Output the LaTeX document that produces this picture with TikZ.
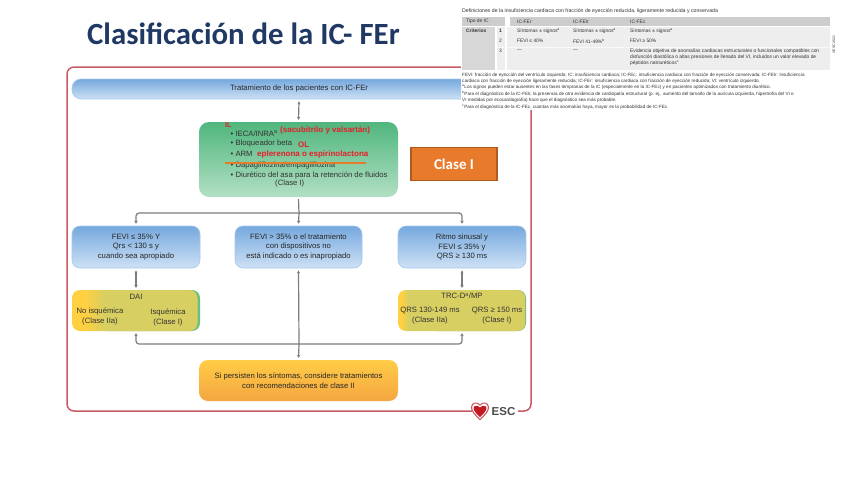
\documentclass[tikz,border=0pt]{standalone}
\usepackage{fontspec}
\setmainfont{Liberation Sans}
\newfontfamily\titlefont{Carlito}
\usetikzlibrary{arrows.meta}
\definecolor{framered}{RGB}{200,90,100}
\definecolor{titleblue}{RGB}{31,56,100}
\definecolor{conn}{RGB}{125,125,128}
\definecolor{clase}{RGB}{232,122,44}
\definecolor{clasedge}{RGB}{176,90,34}
\definecolor{yelbox}{RGB}{216,207,98}
\definecolor{yelhot}{RGB}{255,208,64}
\definecolor{tablehead}{RGB}{205,205,205}
\definecolor{tablerow}{RGB}{238,238,238}
\definecolor{tablefirst}{RGB}{215,215,215}
\definecolor{anno}{RGB}{232,30,40}
\pgfdeclarehorizontalshading{yelwide}{100bp}{color(0bp)=(yelhot); color(30bp)=(yelhot); color(38bp)=(yelbox); color(100bp)=(yelbox)}
\pgfdeclarehorizontalshading{yelthin}{100bp}{color(0bp)=(yelhot); color(26.5bp)=(yelhot); color(29bp)=(yelbox); color(100bp)=(yelbox)}
\tikzset{
  x=1pt,y=-1pt,
  box/.style={rounded corners=8pt,minimum height=#1,align=center,font=\fontsize{7.7}{9.4}\selectfont,inner sep=0pt,text=black!85},
  bluebox/.style={box=42pt,minimum width=128pt,top color={rgb,255:red,118;green,168;blue,222},bottom color={rgb,255:red,205;green,225;blue,245},draw={rgb,255:red,165;green,200;blue,235},line width=.6pt},
  yelbox/.style={box=41pt,minimum width=128pt},
  sublabel/.style={align=center,font=\fontsize{7.7}{9.3}\selectfont,text=black!80,inner sep=0pt},
  itemtext/.style={anchor=west,font=\fontsize{7.7}{9}\selectfont,text=black!80,inner sep=0pt},
  annotext/.style={anchor=west,font=\fontsize{8}{9}\bfseries\selectfont,text=anno,inner sep=0pt},
  wire/.style={draw=conn,line width=1.2pt,rounded corners=3pt},
  darrow/.style={wire,{Stealth[length=3pt,width=3pt]}-{Stealth[length=3pt,width=3.5pt]}},
  sarrow/.style={wire,-{Stealth[length=3pt,width=3.5pt]}},
  tabletext/.style={anchor=west,font=\fontsize{4.9}{6}\selectfont,inner sep=0pt,text=black!80},
  notetext/.style={anchor=west,font=\fontsize{4.6}{6.4}\selectfont,inner sep=0pt,text=black!80},
}
\begin{document}
\begin{tikzpicture}
\useasboundingbox (0,0) rectangle (848,477);
\fill[white] (0,0) rectangle (848,477);

% title
\node[anchor=west,inner sep=0pt,text=titleblue,font=\titlefont\fontsize{30.8}{32}\bfseries\selectfont] (title) at (87,34) {Clasificación de la IC- FEr};

% frame with gap for logo
\coordinate (frameA) at (472,411);
\coordinate (frameB) at (518,411);
\draw[framered,line width=1.5pt,rounded corners=7pt] (frameA) -- (67,411) -- (67,67) -- (531,67) -- (531,411) -- (frameB);

% boxes
\node[box=20pt,minimum width=454pt,rounded corners=9pt,top color={rgb,255:red,118;green,168;blue,222},bottom color={rgb,255:red,205;green,225;blue,245},draw={rgb,255:red,165;green,200;blue,235},line width=.6pt] (top) at (299,89) {Tratamiento de los pacientes con IC-FEr};

\node[box=75pt,minimum width=199pt,rounded corners=10pt,top color={rgb,255:red,80;green,182;blue,125},bottom color={rgb,255:red,178;green,224;blue,196}] (green) at (298.5,159.5) {};
\node[itemtext] (i1) at (230.5,133.5) {• IECA/INRA\textsuperscript{a}};
\node[itemtext] (i2) at (230.5,144) {• Bloqueador beta};
\node[itemtext] (i3) at (230.5,154) {• ARM};
\node[itemtext] (i4) at (230.5,166) {• Dapagliflozina/empagliflozina};
\node[itemtext] (i5) at (230.5,175) {• Diurético del asa para la retención de fluidos};
\node[itemtext] (i6) at (275,184) {(Clase I)};
\node[annotext,font=\fontsize{7}{8}\bfseries\selectfont] (a0) at (225,125) {IL};
\node[annotext] (a1) at (280,130) {(sacubitrilo y valsartán)};
\node[annotext] (a2) at (298,144.5) {OL};
\node[annotext] (a3) at (257,154) {eplerenona o espirinolactona};
\coordinate (strikeA) at (225,163);
\coordinate (strikeB) at (366,163);
\draw[clase,line width=1.4pt] (strikeA) -- (strikeB);

\node[minimum width=86pt,minimum height=33pt,inner sep=0pt,fill=clase,draw=clasedge,line width=1.2pt,text=white,font=\titlefont\fontsize{15}{16}\bfseries\selectfont] (clase) at (454,164) {Clase I};

\node[bluebox] (b1) at (136,247) {FEVI ≤ 35\% Y\\Qrs < 130 s y\\cuando sea apropiado};
\node[bluebox,minimum width=127pt] (b2) at (298.5,247) {FEVI > 35\% o el tratamiento\\con dispositivos no\\está indicado o es inapropiado};
\node[bluebox] (b3) at (462,247) {Ritmo sinusal y\\FEVI ≤ 35\% y\\QRS ≥ 130 ms};

% yellow boxes with coloured edges
\fill[rounded corners=8pt,fill={rgb,255:red,110;green,190;blue,125}] (100,290) rectangle (200,331);
\node[yelbox,minimum width=125.5pt,shading=yelwide] (y1) at (134.75,310.5) {};
\fill[rounded corners=8pt,fill={rgb,255:red,110;green,190;blue,125}] (430,290) rectangle (526,331);
\node[yelbox,minimum width=127.2pt,shading=yelthin] (y2) at (461.6,310.5) {};
\node[sublabel] (y1t) at (136,297) {DAI};
\node[sublabel] (y1a) at (100,316.5) {No isquémica\\(Clase IIa)};
\node[sublabel] (y1b) at (168,317.5) {Isquémica\\(Clase I)};
\node[sublabel] (y2t) at (462,296) {TRC-D\textsuperscript{a}/MP};
\node[sublabel] (y2a) at (430,315.5) {QRS 130-149 ms\\(Clase IIa)};
\node[sublabel] (y2b) at (497,315.5) {QRS ≥ 150 ms\\(Clase I)};

\node[box=41pt,minimum width=199pt,rounded corners=9pt,top color={rgb,255:red,255;green,205;blue,70},bottom color={rgb,255:red,245;green,165;blue,65}] (o) at (298.5,380.5) {Si persisten los síntomas, considere tratamientos\\con recomendaciones de clase II};

% connectors
\coordinate (busT) at (299,213);
\coordinate (busB) at (299,344);
\draw[darrow] ([yshift=-2pt]top.south) -- ([yshift=2pt]green.north);
\draw[wire] ([yshift=-2pt]green.south) -- (busT);
\draw[sarrow] (busT) -- ([yshift=2pt]b2.north);
\draw[sarrow] (busT) -| ([yshift=2pt]b1.north);
\draw[sarrow] (busT) -| ([yshift=2pt]b3.north);
\draw[darrow] ([yshift=-2pt]b1.south) -- ([yshift=2pt]y1.north -| b1.south);
\draw[darrow] ([yshift=-2pt]b3.south) -- ([yshift=2pt]y2.north -| b3.south);
\draw[wire,{Stealth[length=3pt,width=3pt]}-] ([yshift=-2pt]b2.south) -- (busB);
\draw[sarrow] (busB) -| ([yshift=-2pt]y1.south -| b1.south);
\draw[sarrow] (busB) -| ([yshift=-2pt]y2.south -| b3.south);
\draw[sarrow] (busB) -- ([yshift=2pt]o.north);

% ESC logo
\node[inner sep=0pt,text=black!70,font=\fontsize{11.5}{12}\bfseries\selectfont,anchor=west] (esc) at (491.5,412) {ESC};
\fill[white,draw=framered,line width=1.1pt] (480,419.5) .. controls (475,415) and (471.5,411) .. (471.5,407.5) .. controls (471.5,402.5) and (477,401.5) .. (480,405) .. controls (483,401.5) and (488.5,402.5) .. (488.5,407.5) .. controls (488.5,411) and (485,415) .. (480,419.5) -- cycle;
\fill[anno!85!black] (480,417) .. controls (476,413.5) and (473.5,410.5) .. (473.5,408) .. controls (473.5,405.5) and (478,405) .. (480,407.5) .. controls (482,405) and (486.5,405.5) .. (486.5,408) .. controls (486.5,410.5) and (484,413.5) .. (480,417) -- cycle;

% table, top right: pasted on a white ground that hides the frame's corner
\fill[white] (461,0) rectangle (848,110);
\node[notetext,font=\fontsize{5.2}{6}\selectfont] (tcap) at (462,11) {Definiciones de la insuficiencia cardiaca con fracción de eyección reducida, ligeramente reducida y conservada};
\fill[tablehead] (462,17) rectangle (505,26);
\fill[tablehead] (510,17) rectangle (830,26);
\fill[tablefirst] (462,27) rectangle (495,70);
\fill[tablerow] (497,27) rectangle (505,70);
\fill[tablerow] (507,27) rectangle (830,70);
\draw[white,line width=.5pt,densely dotted] (497,47.5) -- (830,47.5);
\node[tabletext] (h0) at (466,21.5) {Tipo de IC};
\node[tabletext] (h1) at (517,21.5) {IC-FEr};
\node[tabletext] (h2) at (573,21.5) {IC-FElr};
\node[tabletext] (h3) at (630,21.5) {IC-FEc};
\node[tabletext,font=\fontsize{4.9}{6}\bfseries\selectfont] (c0) at (466,31) {Criterios};
\node[tabletext,font=\fontsize{5}{6}\bfseries\selectfont] (r1) at (499,31) {1};
\node[tabletext] (r2) at (499,41) {2};
\node[tabletext] (r3) at (499,51) {3};
\node[tabletext] (c11) at (517,31) {Síntomas ± signos\textsuperscript{a}};
\node[tabletext] (c12) at (573,31) {Síntomas ± signos\textsuperscript{a}};
\node[tabletext] (c13) at (630,31) {Síntomas ± signos\textsuperscript{a}};
\node[tabletext] (c21) at (517,41) {FEVI ≤ 40\%};
\node[tabletext] (c22) at (573,41) {FEVI 41-49\%\textsuperscript{b}};
\node[tabletext] (c23) at (630,41) {FEVI ≥ 50\%};
\node[tabletext] (c31) at (517,51) {—};
\node[tabletext] (c32) at (573,51) {—};
\node[tabletext,align=left,anchor=north west,font=\fontsize{4.9}{6.2}\selectfont] (c33) at (630,48.5) {Evidencia objetiva de anomalías cardiacas estructurales o funcionales compatibles con\\disfunción diastólica o altas presiones de llenado del VI, incluidos un valor elevado de\\péptidos natriuréticos\textsuperscript{c}};
\node[notetext,rotate=90,font=\fontsize{3.5}{4}\selectfont] (side) at (834,54) {©ESC 2021};
\node[notetext,anchor=north west,align=left] (notes) at (462,72.5) {FEVI: fracción de eyección del ventrículo izquierdo; IC: insuficiencia cardiaca; IC-FEc: insuficiencia cardiaca con fracción de eyección conservada; IC-FElr: insuficiencia\\cardiaca con fracción de eyección ligeramente reducida; IC-FEr: insuficiencia cardiaca con fracción de eyección reducida; VI: ventrículo izquierdo.\\\textsuperscript{a}Los signos pueden estar ausentes en las fases tempranas de la IC (especialmente en la IC-FEc) y en pacientes optimizados con tratamiento diurético.\\\textsuperscript{b}Para el diagnóstico de la IC-FElr, la presencia de otra evidencia de cardiopatía estructural (p. ej., aumento del tamaño de la aurícula izquierda, hipertrofia del VI o\\VI medidas por ecocardiografía) hace que el diagnóstico sea más probable.\\\textsuperscript{c}Para el diagnóstico de la IC-FEc, cuantas más anomalías haya, mayor es la probabilidad de IC-FEc.};
\end{tikzpicture}
\end{document}
